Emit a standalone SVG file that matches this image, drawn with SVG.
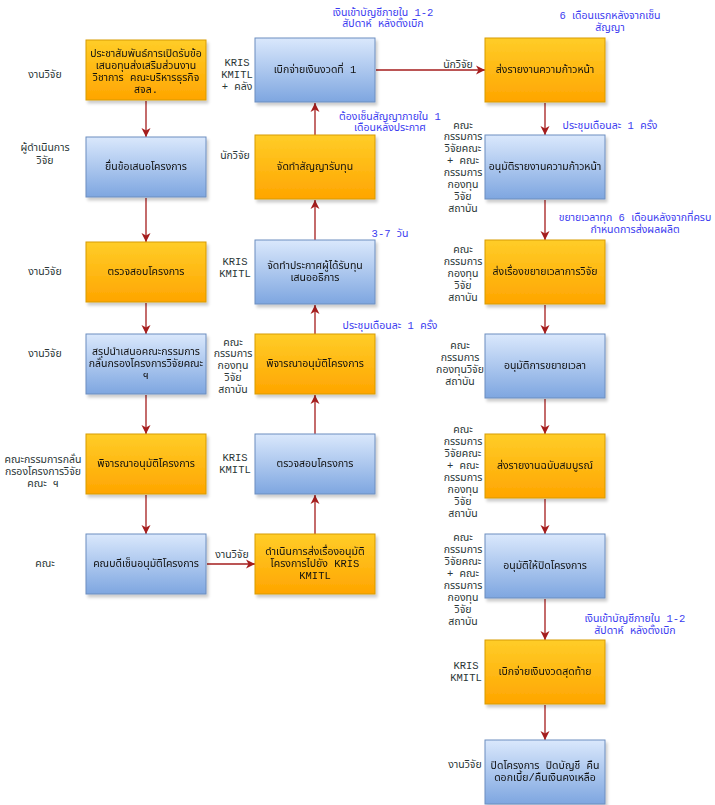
<svg xmlns="http://www.w3.org/2000/svg" width="715" height="805" viewBox="0 0 715 805">
<style>
text{font-family:"Liberation Mono","Noto Sans Thai","Tahoma","DejaVu Sans",sans-serif;font-size:10.5px;text-anchor:middle;dominant-baseline:central}
.box text{fill:#111}
.role{fill:#2a3636}
.note{fill:#3b3bf0}
.o{fill:url(#og);stroke:#d79b00;stroke-width:1}
.b{fill:url(#bg);stroke:#6c8ebf;stroke-width:1}
.box{filter:url(#sh)}
.c{stroke:#a51d1d;stroke-width:1.3;fill:none;marker-end:url(#ah)}
</style>
<defs>
<linearGradient id="og" x1="0" y1="0" x2="0" y2="1"><stop offset="0" stop-color="#ffcd28"/><stop offset="1" stop-color="#ffa500"/></linearGradient>
<linearGradient id="bg" x1="0" y1="0" x2="0" y2="1"><stop offset="0" stop-color="#dae8fc"/><stop offset="1" stop-color="#7ea6e0"/></linearGradient>
<filter id="sh" x="-10%" y="-10%" width="130%" height="140%"><feDropShadow dx="2" dy="3" stdDeviation="1.5" flood-color="#000" flood-opacity="0.2"/></filter>
<marker id="ah" markerUnits="userSpaceOnUse" markerWidth="10" markerHeight="10" refX="9" refY="5" orient="auto"><path d="M0,0.5 L9,5 L0,9.5 L2.5,5 z" fill="#a51d1d"/></marker>
</defs>
<rect width="715" height="805" fill="#fff"/>

<g id="connectors">
<line class="c" x1="146" y1="101" x2="146" y2="137"/>
<line class="c" x1="146" y1="198" x2="146" y2="242"/>
<line class="c" x1="146" y1="303" x2="146" y2="334"/>
<line class="c" x1="146" y1="395" x2="146" y2="434"/>
<line class="c" x1="146" y1="495" x2="146" y2="534"/>
<line class="c" x1="207" y1="564" x2="255" y2="564"/>
<line class="c" x1="315" y1="534" x2="315" y2="495"/>
<line class="c" x1="315" y1="434" x2="315" y2="395"/>
<line class="c" x1="315" y1="334" x2="315" y2="305"/>
<line class="c" x1="315" y1="240" x2="315" y2="200"/>
<line class="c" x1="315" y1="135" x2="315" y2="103"/>
<line class="c" x1="376" y1="70" x2="485" y2="70"/>
<line class="c" x1="545" y1="103" x2="545" y2="135"/>
<line class="c" x1="545" y1="200" x2="545" y2="240"/>
<line class="c" x1="545" y1="305" x2="545" y2="334"/>
<line class="c" x1="545" y1="399" x2="545" y2="434"/>
<line class="c" x1="545" y1="499" x2="545" y2="534"/>
<line class="c" x1="545" y1="599" x2="545" y2="640"/>
<line class="c" x1="545" y1="705" x2="545" y2="740"/>
</g>

<g id="L1" class="box"><rect class="o" x="86" y="40" width="120" height="60"/>
<text x="146" y="54">ประชาสัมพันธ์การเปิดรับข้อ</text><text x="146" y="66">เสนอทุนส่งเสริมส่วนงาน</text><text x="146" y="78">วิชาการ คณะบริหารธุรกิจ</text><text x="146" y="90">สจล.</text></g>
<g id="L2" class="box"><rect class="b" x="86" y="137" width="120" height="60"/><text x="146" y="167">ยื่นข้อเสนอโครงการ</text></g>
<g id="L3" class="box"><rect class="o" x="86" y="242" width="120" height="60"/><text x="146" y="272">ตรวจสอบโครงการ</text></g>
<g id="L4" class="box"><rect class="b" x="86" y="334" width="120" height="60"/>
<text x="146" y="352">สรุปนำเสนอคณะกรรมการ</text><text x="146" y="364">กลั่นกรองโครงการวิจัยคณะ</text><text x="146" y="376">ฯ</text></g>
<g id="L5" class="box"><rect class="o" x="86" y="434" width="120" height="60"/><text x="146" y="464">พิจารณาอนุมัติโครงการ</text></g>
<g id="L6" class="box"><rect class="b" x="86" y="534" width="120" height="60"/><text x="146" y="564">คณบดีเซ็นอนุมัติโครงการ</text></g>

<g id="M1" class="box"><rect class="b" x="255" y="38" width="120" height="64"/><text x="315" y="70">เบิกจ่ายเงินงวดที่ 1</text></g>
<g id="M2" class="box"><rect class="o" x="255" y="135" width="120" height="64"/><text x="315" y="167">จัดทำสัญญารับทุน</text></g>
<g id="M3" class="box"><rect class="b" x="255" y="240" width="120" height="64"/><text x="315" y="266">จัดทำประกาศผู้ได้รับทุน</text><text x="315" y="278">เสนออธิการ</text></g>
<g id="M4" class="box"><rect class="o" x="255" y="334" width="120" height="60"/><text x="315" y="364">พิจารณาอนุมัติโครงการ</text></g>
<g id="M5" class="box"><rect class="b" x="255" y="434" width="120" height="60"/><text x="315" y="464">ตรวจสอบโครงการ</text></g>
<g id="M6" class="box"><rect class="o" x="255" y="534" width="120" height="60"/><text x="315" y="552">ดำเนินการส่งเรื่องอนุมัติ</text><text x="315" y="564">โครงการไปยัง KRIS</text><text x="315" y="576">KMITL</text></g>

<g id="R1" class="box"><rect class="o" x="485" y="38" width="120" height="64"/><text x="545" y="70">ส่งรายงานความก้าวหน้า</text></g>
<g id="R2" class="box"><rect class="b" x="485" y="135" width="120" height="64"/><text x="545" y="167">อนุมัติรายงานความก้าวหน้า</text></g>
<g id="R3" class="box"><rect class="o" x="485" y="240" width="120" height="64"/><text x="545" y="272">ส่งเรื่องขยายเวลาการวิจัย</text></g>
<g id="R4" class="box"><rect class="b" x="485" y="334" width="120" height="64"/><text x="545" y="366">อนุมัติการขยายเวลา</text></g>
<g id="R5" class="box"><rect class="o" x="485" y="434" width="120" height="64"/><text x="545" y="466">ส่งรายงานฉบับสมบูรณ์</text></g>
<g id="R6" class="box"><rect class="b" x="485" y="534" width="120" height="64"/><text x="545" y="566">อนุมัติให้ปิดโครงการ</text></g>
<g id="R7" class="box"><rect class="o" x="485" y="640" width="120" height="64"/><text x="545" y="672">เบิกจ่ายเงินงวดสุดท้าย</text></g>
<g id="R8" class="box"><rect class="b" x="485" y="740" width="120" height="64"/><text x="545" y="766">ปิดโครงการ ปิดบัญชี คืน</text><text x="545" y="778">ดอกเบี้ย/คืนเงินคงเหลือ</text></g>

<g id="roles" class="role">
<text class="role" x="45" y="75">งานวิจัย</text>
<text class="role" x="45" y="148">ผู้ดำเนินการ</text><text class="role" x="45" y="161">วิจัย</text>
<text class="role" x="45" y="272">งานวิจัย</text>
<text class="role" x="45" y="354">งานวิจัย</text>
<text class="role" x="43" y="460">คณะกรรมการกลั่น</text><text class="role" x="43" y="472">กรองโครงการวิจัย</text><text class="role" x="43" y="484">คณะ ฯ</text>
<text class="role" x="45" y="564">คณะ</text>

<text class="role" x="237" y="63">KRIS</text><text class="role" x="237" y="75">KMITL</text><text class="role" x="237" y="87">+ คลัง</text>
<text class="role" x="235" y="156">นักวิจัย</text>
<text class="role" x="235" y="262">KRIS</text><text class="role" x="235" y="274">KMITL</text>
<text class="role" x="233" y="343">คณะ</text><text class="role" x="233" y="354">กรรมการ</text><text class="role" x="233" y="366">กองทุน</text><text class="role" x="233" y="378">วิจัย</text><text class="role" x="233" y="390">สถาบัน</text>
<text class="role" x="235" y="458">KRIS</text><text class="role" x="235" y="470">KMITL</text>
<text class="role" x="232" y="555">งานวิจัย</text>

<text class="role" x="458" y="65">นักวิจัย</text>
<text class="role" x="463" y="126">คณะ</text><text class="role" x="463" y="137">กรรมการ</text><text class="role" x="463" y="149">วิจัยคณะ</text><text class="role" x="463" y="161">+ คณะ</text><text class="role" x="463" y="173">กรรมการ</text><text class="role" x="463" y="185">กองทุน</text><text class="role" x="463" y="197">วิจัย</text><text class="role" x="463" y="209">สถาบัน</text>
<text class="role" x="463" y="250">คณะ</text><text class="role" x="463" y="262">กรรมการ</text><text class="role" x="463" y="274">กองทุน</text><text class="role" x="463" y="286">วิจัย</text><text class="role" x="463" y="298">สถาบัน</text>
<text class="role" x="460" y="346">คณะ</text><text class="role" x="460" y="358">กรรมการ</text><text class="role" x="460" y="370">กองทุนวิจัย</text><text class="role" x="460" y="382">สถาบัน</text>
<text class="role" x="463" y="430">คณะ</text><text class="role" x="463" y="442">กรรมการ</text><text class="role" x="463" y="454">วิจัยคณะ</text><text class="role" x="463" y="466">+ คณะ</text><text class="role" x="463" y="478">กรรมการ</text><text class="role" x="463" y="490">กองทุน</text><text class="role" x="463" y="502">วิจัย</text><text class="role" x="463" y="514">สถาบัน</text>
<text class="role" x="463" y="538">คณะ</text><text class="role" x="463" y="550">กรรมการ</text><text class="role" x="463" y="562">วิจัยคณะ</text><text class="role" x="463" y="574">+ คณะ</text><text class="role" x="463" y="586">กรรมการ</text><text class="role" x="463" y="598">กองทุน</text><text class="role" x="463" y="610">วิจัย</text><text class="role" x="463" y="622">สถาบัน</text>
<text class="role" x="466" y="666">KRIS</text><text class="role" x="466" y="678">KMITL</text>
<text class="role" x="465" y="765">งานวิจัย</text>
</g>

<g id="notes">
<text class="note" x="383" y="13">เงินเข้าบัญชีภายใน 1-2</text><text class="note" x="383" y="24">สัปดาห์ หลังตั้งเบิก</text>
<text class="note" x="610" y="16">6 เดือนแรกหลังจากเซ็น</text><text class="note" x="610" y="28">สัญญา</text>
<text class="note" x="390" y="117">ต้องเซ็นสัญญาภายใน 1</text><text class="note" x="390" y="128">เดือนหลังประกาศ</text>
<text class="note" x="610" y="126">ประชุมเดือนละ 1 ครั้ง</text>
<text class="note" x="635" y="218">ขยายเวลาทุก 6 เดือนหลังจากที่ครบ</text><text class="note" x="635" y="230">กำหนดการส่งผลผลิต</text>
<text class="note" x="390" y="234">3-7 วัน</text>
<text class="note" x="390" y="326">ประชุมเดือนละ 1 ครั้ง</text>
<text class="note" x="635" y="619">เงินเข้าบัญชีภายใน 1-2</text><text class="note" x="635" y="631">สัปดาห์ หลังตั้งเบิก</text>
</g>
</svg>
